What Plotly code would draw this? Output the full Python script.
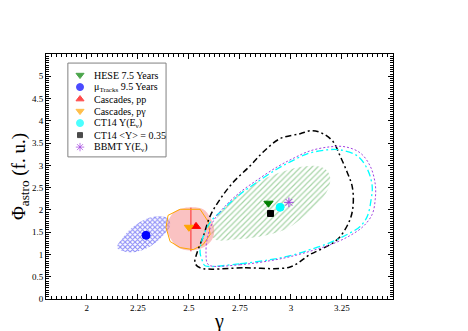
import plotly.graph_objects as go

# best-fit points
hese = (2.89, 2.15)
tracks = (2.29, 1.43)
casc_pp = (2.535, 1.63)
casc_pg = (2.50, 1.61)
ct14 = (2.947, 2.06)
ct14_const = (2.90, 1.92)
bbmt = (2.99, 2.17)

# contours
tracks_x = [2.148, 2.187, 2.246, 2.310, 2.374, 2.408, 2.398, 2.349, 2.285, 2.222, 2.173, 2.148]
tracks_y = [1.154, 1.063, 1.063, 1.176, 1.425, 1.652, 1.810, 1.855, 1.787, 1.606, 1.357, 1.154]

pp_x = [2.398, 2.432, 2.506, 2.570, 2.604, 2.624, 2.614, 2.570, 2.506, 2.447, 2.413, 2.393, 2.398]
pp_y = [1.742, 1.968, 2.059, 2.014, 1.833, 1.561, 1.335, 1.154, 1.086, 1.154, 1.335, 1.561, 1.742]

pg_x = [2.398, 2.457, 2.555, 2.594, 2.604, 2.570, 2.521, 2.457, 2.408, 2.388, 2.398]
pg_y = [1.878, 2.014, 2.014, 1.742, 1.448, 1.222, 1.109, 1.154, 1.290, 1.606, 1.878]

hese_x = [2.609, 2.628, 2.668, 2.751, 2.834, 2.913, 3.021, 3.119, 3.168, 3.192, 3.182,
          3.119, 3.045, 2.972, 2.849, 2.726, 2.628, 2.609]
hese_y = [1.516, 1.742, 2.059, 2.376, 2.624, 2.783, 2.941, 2.986, 2.919, 2.738, 2.466,
          2.081, 1.787, 1.561, 1.403, 1.335, 1.335, 1.516]

const_x = [2.555, 2.775, 2.996, 3.094, 3.192, 3.241, 3.290, 3.305, 3.300, 3.275, 3.241, 3.207,
           3.158, 3.104, 3.045, 2.947, 2.864, 2.800, 2.717, 2.653, 2.604, 2.570, 2.540, 2.530, 2.555]
const_y = [0.70, 0.70, 0.72, 1.00, 1.22, 1.40, 1.79, 2.13, 2.53, 2.85, 3.21, 3.53,
           3.71, 3.78, 3.71, 3.60, 3.30, 2.99, 2.62, 2.24, 1.86, 1.40, 1.04, 0.81, 0.70]

ct14_x = [2.579, 2.751, 2.898, 2.996, 3.094, 3.192, 3.275, 3.339, 3.374, 3.393, 3.398, 3.374,
          3.325, 3.241, 3.177, 3.079, 2.996, 2.932, 2.834, 2.751, 2.668, 2.604, 2.565, 2.555, 2.570, 2.579]
ct14_y = [0.747, 0.792, 0.882, 0.973, 1.109, 1.267, 1.448, 1.629, 1.855, 2.240, 2.534, 2.919,
          3.213, 3.348, 3.348, 3.258, 3.077, 2.919, 2.624, 2.353, 2.014, 1.719, 1.335, 1.041, 0.814, 0.747]

bbmt_x = [2.604, 2.751, 2.898, 2.996, 3.104, 3.207, 3.290, 3.354, 3.398, 3.413, 3.413, 3.388,
          3.339, 3.266, 3.192, 3.094, 3.006, 2.932, 2.834, 2.751, 2.677, 2.619, 2.589, 2.584, 2.589, 2.604]
bbmt_y = [0.747, 0.769, 0.860, 0.950, 1.086, 1.244, 1.425, 1.629, 1.900, 2.240, 2.579, 2.986,
          3.281, 3.416, 3.416, 3.326, 3.145, 2.964, 2.670, 2.398, 2.081, 1.742, 1.335, 0.995, 0.814, 0.747]

# legend
legend_labels = ["HESE 7.5 Years", "μ<sub>Tracks</sub> 9.5 Years", "Cascades, pp", "Cascades, pγ",
                 "CT14 Y(E<sub>ν</sub>)", "CT14 &lt;Y&gt; = 0.35", "BBMT Y(E<sub>ν</sub>)"]
legend_symbols = ["triangle-down", "circle", "triangle-up", "triangle-down", "circle", "square", "asterisk-open"]
legend_colors = ["green", "blue", "red", "orange", "cyan", "black", "#a040e0"]

x_ticks = [2, 2.25, 2.5, 2.75, 3, 3.25]
y_ticks = [0, 0.5, 1, 1.5, 2, 2.5, 3, 3.5, 4, 4.5, 5]

SERIF = "Liberation Serif"

fig = go.Figure()

# filled regions
fig.add_trace(go.Scatter(x=tracks_x, y=tracks_y, mode="lines", fill="toself", line=dict(width=0, color="blue"),
                         line_shape="spline", fillcolor="rgba(0,0,0,0)",
                         fillpattern=dict(shape="x", fgcolor="rgb(30,30,240)", bgcolor="white",
                                          size=3.5, solidity=0.55)))
fig.add_trace(go.Scatter(x=hese_x, y=hese_y, mode="lines", fill="toself", line=dict(width=0, color="green"),
                         line_shape="spline", fillcolor="rgba(0,0,0,0)",
                         fillpattern=dict(shape="/", fgcolor="rgb(80,170,80)", bgcolor="rgba(0,0,0,0)",
                                          size=4, solidity=0.3)))
fig.add_trace(go.Scatter(x=pp_x, y=pp_y, mode="lines", fill="toself", line=dict(width=0),
                         line_shape="spline", fillcolor="rgba(245,120,120,0.45)"))
fig.add_trace(go.Scatter(x=[2.51, 2.51], y=[1.07, 2.05], mode="lines", line=dict(width=0.8, color="red")))
fig.add_trace(go.Scatter(x=pg_x, y=pg_y, mode="lines", line=dict(width=1, color="orange")))

# outlines
fig.add_trace(go.Scatter(x=const_x, y=const_y, mode="lines", line_shape="spline",
                         line=dict(width=1.5, color="black", dash="6px,3px,2px,3px")))
fig.add_trace(go.Scatter(x=ct14_x, y=ct14_y, mode="lines", line_shape="spline",
                         line=dict(width=1.3, color="cyan", dash="7px,3px,2px,3px")))
fig.add_trace(go.Scatter(x=bbmt_x, y=bbmt_y, mode="lines", line_shape="spline",
                         line=dict(width=1, color="#a040e0", dash="2px,2px")))

# best-fit markers
points = [hese, tracks, casc_pp, casc_pg, ct14, ct14_const, bbmt]
for p, sym, col in zip(points, legend_symbols, legend_colors):
    fig.add_trace(go.Scatter(x=[p[0]], y=[p[1]], mode="markers",
                             marker=dict(symbol=sym, color=col, size=8 if sym != "square" else 6,
                                         line=dict(width=1, color=col))))

# manual legend on overlay axes
rows = [0.914 - 0.049 * i for i in range(len(legend_labels))]
fig.add_trace(go.Scatter(x=[0.098] * len(rows), y=rows, mode="markers", xaxis="x2", yaxis="y2",
                         marker=dict(symbol=legend_symbols, color=legend_colors,
                                     size=[7, 7, 7, 7, 7, 5, 7],
                                     line=dict(width=1, color=legend_colors))))
for lab, yy in zip(legend_labels, rows):
    fig.add_annotation(x=0.133, y=yy, xref="paper", yref="paper", text=lab, showarrow=False,
                       xanchor="left", yanchor="middle", font=dict(family=SERIF, size=10, color="black"))
fig.add_shape(type="rect", xref="paper", yref="paper", x0=0.063, x1=0.346, y0=0.58, y1=0.963,
              line=dict(color="gray", width=1))

axis_common = dict(showgrid=False, zeroline=False, showline=True, linecolor="black", linewidth=1,
                   mirror="ticks", ticks="inside", ticklen=5, tickcolor="black", automargin=False,
                   tickfont=dict(family=SERIF, size=9, color="black"))

fig.update_layout(
    width=468, height=331,
    margin=dict(l=38, r=83, t=46, b=40),
    paper_bgcolor="white", plot_bgcolor="white",
    showlegend=False,
    xaxis=dict(range=[1.8, 3.5], tickvals=x_ticks, ticktext=[str(v) for v in x_ticks],
               minor=dict(dtick=0.025, tick0=1.8, ticklen=3, ticks="inside", tickcolor="black"),
               title=dict(text="γ", font=dict(family=SERIF, size=20, color="black"), standoff=2),
               **axis_common),
    yaxis=dict(range=[0, 5.5], tickvals=y_ticks, ticktext=[str(v) for v in y_ticks],
               minor=dict(dtick=0.05, tick0=0, ticklen=3, ticks="inside", tickcolor="black"),
               title=dict(text="Φ<sub>astro</sub> (f. u.)", font=dict(family=SERIF, size=19, color="black"),
                          standoff=4),
               **axis_common),
    xaxis2=dict(range=[0, 1], overlaying="x", visible=False),
    yaxis2=dict(range=[0, 1], overlaying="y", visible=False),
)

fig.write_html("out.html")
